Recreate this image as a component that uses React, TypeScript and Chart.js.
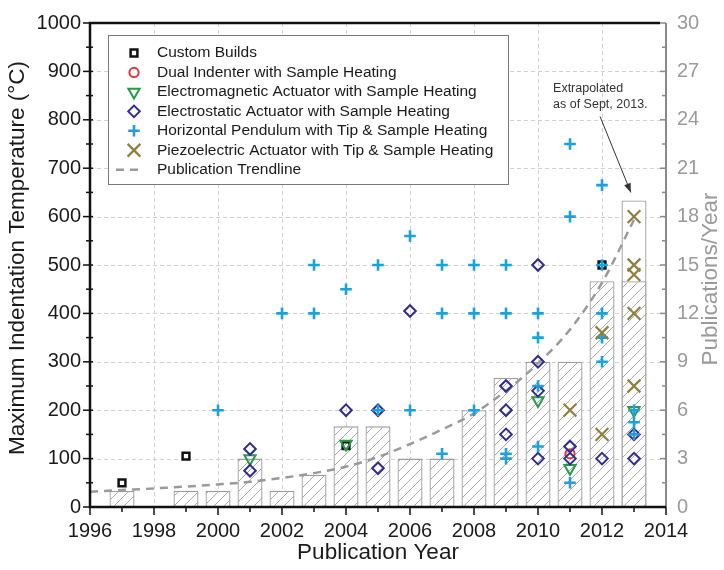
import React, { useEffect, useRef } from 'react';
import { Chart, registerables } from 'chart.js';
import { drawPoint } from 'chart.js/helpers';

Chart.register(...registerables);

const FONT = '"Liberation Sans", Arial, Helvetica, sans-serif';

// ---- Publications per year (right axis) ----
const barYears = [1997, 1999, 2000, 2001, 2002, 2003, 2004, 2005, 2006, 2007, 2008, 2009, 2010, 2011, 2012, 2013];
const publications = [1, 1, 1, 3, 1, 2, 5, 5, 3, 3, 6, 8, 9, 9, 14, 14];
const extrapolatedYears = [2013];
const extrapolatedPublications = [19];

// ---- Publication trendline (right axis) ----
const trendYears = [1996, 1997, 1998, 1999, 2000, 2001, 2002, 2003, 2004, 2005, 2006, 2007, 2008, 2009, 2010, 2011, 2012, 2013];
const trendPublications = [0.95, 1.05, 1.15, 1.27, 1.4, 1.56, 1.8, 2.1, 2.5, 3.1, 3.9, 4.8, 5.8, 7.2, 8.9, 11.0, 13.9, 17.8];

// ---- Maximum indentation temperature (left axis), by technique ----
const customYears = [1997, 1999, 2004, 2012];
const customTemps = [50, 105, 127, 500];

const dualYears = [2011];
const dualTemps = [110];

const emYears = [2001, 2004, 2010, 2011, 2013];
const emTemps = [100, 130, 220, 80, 200];

const esYears = [2001, 2001, 2004, 2005, 2005, 2006, 2009, 2009, 2009, 2010, 2010, 2010, 2010, 2011, 2011, 2012, 2013, 2013];
const esTemps = [120, 75, 200, 200, 80, 405, 250, 200, 150, 500, 300, 240, 100, 125, 100, 100, 150, 100];

const hpYears = [2000, 2002, 2003, 2003, 2004, 2005, 2005, 2006, 2006, 2007, 2007, 2007, 2008, 2008, 2008, 2009, 2009, 2009, 2009, 2010, 2010, 2010, 2010, 2011, 2011, 2011, 2012, 2012, 2012, 2012, 2012, 2013, 2013, 2013];
const hpTemps = [200, 400, 500, 400, 450, 500, 200, 560, 200, 500, 400, 110, 500, 400, 200, 500, 400, 110, 100, 400, 350, 250, 125, 750, 600, 50, 665, 500, 400, 350, 300, 200, 175, 150];

const pzYears = [2011, 2012, 2012, 2013, 2013, 2013, 2013, 2013];
const pzTemps = [200, 360, 150, 600, 500, 480, 400, 250];

// ---- Annotation ----
const annotationLines = ['Extrapolated', 'as of Sept, 2013.'];
const annotationTextAt = { x: 2010.47, y: 25.95 };
const arrowFrom = { x: 2011.94, y: 24.2 };
const arrowTo = { x: 2012.9, y: 19.5 };

const zip = (xs: number[], ys: number[]) => xs.map((x, i) => ({ x, y: ys[i] }));

function makeHatch(): CanvasPattern | string {
  const c = document.createElement('canvas');
  const s = 10;
  c.width = s;
  c.height = s;
  const g = c.getContext('2d');
  if (!g) return '#fff';
  g.fillStyle = '#ffffff';
  g.fillRect(0, 0, s, s);
  g.strokeStyle = '#a8a8a8';
  g.lineWidth = 1;
  g.beginPath();
  g.moveTo(0, s);
  g.lineTo(s, 0);
  g.moveTo(-s / 2, s / 2);
  g.lineTo(s / 2, -s / 2);
  g.moveTo(s / 2, s * 1.5);
  g.lineTo(s * 1.5, s / 2);
  g.stroke();
  return g.createPattern(c, 'repeat') || '#fff';
}

const framePlugin = {
  id: 'frame',
  beforeDatasetsDraw(chart: any) {
    const { ctx, chartArea: a, scales } = chart;
    const xs = scales.x;
    const ys = scales.y;
    ctx.save();
    ctx.strokeStyle = '#d2d2d2';
    ctx.lineWidth = 1;
    ctx.setLineDash([4, 3]);
    ys.ticks.forEach((t: any) => {
      if (t.value <= ys.min || t.value >= ys.max) return;
      const py = Math.round(ys.getPixelForValue(t.value)) + 0.5;
      ctx.beginPath();
      ctx.moveTo(a.left, py);
      ctx.lineTo(a.right, py);
      ctx.stroke();
    });
    xs.ticks.forEach((t: any) => {
      if (t.value <= xs.min || t.value >= xs.max) return;
      const px = Math.round(xs.getPixelForValue(t.value)) + 0.5;
      ctx.beginPath();
      ctx.moveTo(px, a.top);
      ctx.lineTo(px, a.bottom);
      ctx.stroke();
    });
    ctx.restore();
  },
  afterDatasetsDraw(chart: any) {
    const { ctx, chartArea: a, scales } = chart;
    const xs = scales.x;
    const ys = scales.y;
    const yr = scales.yR;
    ctx.save();
    ctx.setLineDash([]);
    ctx.strokeStyle = '#111';
    ctx.lineWidth = 1.5;
    const yt = ys.ticks.map((t: any) => t.value);
    for (let i = 0; i < yt.length; i++) {
      const py = ys.getPixelForValue(yt[i]);
      ctx.beginPath();
      ctx.moveTo(a.left - 7, py);
      ctx.lineTo(a.left + 3, py);
      ctx.stroke();
      if (i < yt.length - 1) {
        const pm = ys.getPixelForValue((yt[i] + yt[i + 1]) / 2);
        ctx.beginPath();
        ctx.moveTo(a.left - 4, pm);
        ctx.lineTo(a.left + 3, pm);
        ctx.stroke();
      }
    }
    const xt = xs.ticks.map((t: any) => t.value);
    for (let i = 0; i < xt.length; i++) {
      const px = xs.getPixelForValue(xt[i]);
      ctx.beginPath();
      ctx.moveTo(px, a.bottom);
      ctx.lineTo(px, a.bottom + 8);
      ctx.stroke();
      if (i < xt.length - 1) {
        const pm = xs.getPixelForValue((xt[i] + xt[i + 1]) / 2);
        ctx.beginPath();
        ctx.moveTo(pm, a.bottom);
        ctx.lineTo(pm, a.bottom + 5);
        ctx.stroke();
      }
    }
    ctx.strokeStyle = '#8a8a8a';
    const rt = yr.ticks.map((t: any) => t.value);
    for (let i = 0; i < rt.length; i++) {
      const py = yr.getPixelForValue(rt[i]);
      ctx.beginPath();
      ctx.moveTo(a.right - 6, py);
      ctx.lineTo(a.right, py);
      ctx.stroke();
      if (i < rt.length - 1) {
        const pm = yr.getPixelForValue((rt[i] + rt[i + 1]) / 2);
        ctx.beginPath();
        ctx.moveTo(a.right - 4, pm);
        ctx.lineTo(a.right, pm);
        ctx.stroke();
      }
    }
    ctx.lineWidth = 2;
    ctx.strokeStyle = '#8a8a8a';
    ctx.beginPath();
    ctx.moveTo(a.right, a.top);
    ctx.lineTo(a.right, a.bottom);
    ctx.stroke();
    ctx.strokeStyle = '#111';
    ctx.lineWidth = 2.5;
    ctx.beginPath();
    ctx.moveTo(a.right - 6, a.top);
    ctx.lineTo(a.left, a.top);
    ctx.lineTo(a.left, a.bottom);
    ctx.lineTo(a.right, a.bottom);
    ctx.stroke();
    ctx.restore();
  },
  afterDraw(chart: any) {
    const { ctx, chartArea: a, scales } = chart;
    const xs = scales.x;
    const yr = scales.yR;
    const midY = (a.top + a.bottom) / 2;

    // axis titles (both rotated, reading bottom to top)
    ctx.save();
    ctx.font = `22.5px ${FONT}`;
    ctx.textAlign = 'center';
    ctx.textBaseline = 'middle';
    ctx.fillStyle = '#1a1a1a';
    ctx.save();
    ctx.translate(18, midY - 7);
    ctx.rotate(-Math.PI / 2);
    ctx.fillText('Maximum Indentation Temperature (°C)', 0, 0);
    ctx.restore();
    ctx.fillStyle = '#9a9a9a';
    ctx.translate(a.right + 45, midY + 14);
    ctx.rotate(-Math.PI / 2);
    ctx.fillText('Publications/Year', 0, 0);
    ctx.restore();

    // annotation
    ctx.save();
    ctx.fillStyle = '#333';
    ctx.font = `12.5px ${FONT}`;
    ctx.textAlign = 'left';
    ctx.textBaseline = 'middle';
    const tx = xs.getPixelForValue(annotationTextAt.x);
    const ty = yr.getPixelForValue(annotationTextAt.y);
    annotationLines.forEach((t, i) => ctx.fillText(t, tx, ty + i * 16));
    const x1 = xs.getPixelForValue(arrowFrom.x);
    const y1 = yr.getPixelForValue(arrowFrom.y);
    const x2 = xs.getPixelForValue(arrowTo.x);
    const y2 = yr.getPixelForValue(arrowTo.y);
    ctx.strokeStyle = '#333';
    ctx.lineWidth = 1;
    ctx.beginPath();
    ctx.moveTo(x1, y1);
    ctx.lineTo(x2, y2);
    ctx.stroke();
    const ang = Math.atan2(y2 - y1, x2 - x1);
    const hl = 9;
    const hw = 3.5;
    ctx.beginPath();
    ctx.moveTo(x2, y2);
    ctx.lineTo(x2 - hl * Math.cos(ang) + hw * Math.sin(ang), y2 - hl * Math.sin(ang) - hw * Math.cos(ang));
    ctx.lineTo(x2 - hl * Math.cos(ang) - hw * Math.sin(ang), y2 - hl * Math.sin(ang) + hw * Math.cos(ang));
    ctx.closePath();
    ctx.fillStyle = '#333';
    ctx.fill();
    ctx.restore();

    // legend
    const entries = chart.data.datasets.filter((d: any) => d.inLegend);
    entries.sort((p: any, q: any) => p.legendRank - q.legendRank);
    const bx = a.left + 18;
    const by = a.top + 12;
    const bw = 400;
    const rowH = 19.45;
    const bh = 149;
    ctx.save();
    ctx.fillStyle = '#fff';
    ctx.fillRect(bx, by, bw, bh);
    ctx.strokeStyle = '#7a7a7a';
    ctx.lineWidth = 1;
    ctx.strokeRect(Math.round(bx) + 0.5, Math.round(by) + 0.5, bw, bh);
    ctx.font = `15.5px ${FONT}`;
    ctx.textBaseline = 'middle';
    ctx.textAlign = 'left';
    entries.forEach((d: any, i: number) => {
      const cy = by + 18 + i * rowH;
      const mx = bx + 26;
      if (d.type === 'line') {
        ctx.save();
        ctx.strokeStyle = d.borderColor;
        ctx.lineWidth = d.borderWidth;
        ctx.setLineDash(d.borderDash);
        ctx.beginPath();
        ctx.moveTo(mx - 18, cy);
        ctx.lineTo(mx + 10, cy);
        ctx.stroke();
        ctx.restore();
      } else {
        ctx.save();
        ctx.strokeStyle = d.pointBorderColor;
        ctx.fillStyle = 'rgba(0,0,0,0)';
        ctx.lineWidth = d.pointBorderWidth;
        drawPoint(ctx, { pointStyle: d.pointStyle, rotation: d.pointRotation || 0, radius: d.pointRadius, borderWidth: d.pointBorderWidth } as any, mx, cy);
        ctx.restore();
      }
      ctx.fillStyle = '#1a1a1a';
      ctx.fillText(d.label, bx + 49, cy);
    });
    ctx.restore();
  },
};

function scatterSet(label: string, xs: number[], ys: number[], style: string, color: string, radius: number, width: number, rank: number, order: number, rotation = 0) {
  return {
    type: 'scatter',
    label,
    data: zip(xs, ys),
    xAxisID: 'x',
    yAxisID: 'y',
    showLine: false,
    pointStyle: style,
    pointRadius: radius,
    pointHoverRadius: radius,
    pointRotation: rotation,
    pointBorderColor: color,
    pointBackgroundColor: 'rgba(0,0,0,0)',
    pointBorderWidth: width,
    inLegend: true,
    legendRank: rank,
    order,
  };
}

export default function App() {
  const ref = useRef<HTMLCanvasElement>(null);
  useEffect(() => {
    if (!ref.current) return;
    const hatch = makeHatch();
    const chart = new Chart(ref.current, {
      type: 'scatter',
      data: {
        datasets: [
          scatterSet('Custom Builds', customYears, customTemps, 'rect', '#111111', 4.8, 2.5, 0, 7),
          scatterSet('Dual Indenter with Sample Heating', dualYears, dualTemps, 'circle', '#e0383e', 4.6, 2, 1, 6),
          scatterSet('Electromagnetic Actuator with Sample Heating', emYears, emTemps, 'triangle', '#2a9a48', 6.5, 2, 2, 5, 180),
          scatterSet('Electrostatic Actuator with Sample Heating', esYears, esTemps, 'rectRot', '#2f2b8f', 5.8, 2, 3, 4),
          scatterSet('Horizontal Pendulum with Tip & Sample Heating', hpYears, hpTemps, 'cross', '#1ba1db', 5.8, 2.6, 4, 3),
          scatterSet('Piezoelectric Actuator with Tip & Sample Heating', pzYears, pzTemps, 'crossRot', '#8f7f3f', 9, 2.2, 5, 2),
          {
            type: 'line',
            label: 'Publication Trendline',
            data: zip(trendYears, trendPublications),
            xAxisID: 'x',
            yAxisID: 'yR',
            borderColor: '#9a9a9a',
            borderWidth: 2.5,
            borderDash: [8, 6],
            pointRadius: 0,
            fill: false,
            tension: 0.4,
            cubicInterpolationMode: 'monotone',
            inLegend: true,
            legendRank: 6,
            order: 8,
          },
          {
            type: 'bar',
            label: 'Publications',
            data: zip(barYears, publications),
            xAxisID: 'x',
            yAxisID: 'yR',
            backgroundColor: hatch,
            borderColor: '#9c9c9c',
            borderWidth: 1.3,
            borderSkipped: false,
            grouped: false,
            categoryPercentage: 1,
            barPercentage: 0.78,
            order: 9,
          },
          {
            type: 'bar',
            label: 'Extrapolated',
            data: zip(extrapolatedYears, extrapolatedPublications),
            xAxisID: 'x',
            yAxisID: 'yR',
            backgroundColor: '#ffffff',
            borderColor: '#9c9c9c',
            borderWidth: 1.3,
            borderSkipped: false,
            grouped: false,
            categoryPercentage: 1,
            barPercentage: 0.78,
            order: 10,
          },
        ] as any,
      },
      options: {
        responsive: false,
        animation: false,
        events: [],
        layout: { padding: { top: 22, left: 0, right: 0, bottom: 0 } },
        plugins: { legend: { display: false }, tooltip: { enabled: false } },
        scales: {
          x: {
            type: 'linear',
            position: 'bottom',
            min: 1996,
            max: 2014,
            offset: false,
            grid: { display: false, drawTicks: false, offset: false },
            border: { display: false },
            ticks: {
              stepSize: 2,
              autoSkip: false,
              maxRotation: 0,
              padding: 12,
              color: '#1a1a1a',
              font: { family: FONT, size: 20 },
              callback: (v: any) => String(v),
            },
            title: {
              display: true,
              text: 'Publication Year',
              color: '#1a1a1a',
              font: { family: FONT, size: 22.5 },
              padding: { top: 0, bottom: 4 },
            },
            afterFit: (s: any) => {
              s.height = 63;
            },
          },
          y: {
            type: 'linear',
            position: 'left',
            min: 0,
            max: 1000,
            grid: { display: false, drawTicks: false },
            border: { display: false },
            ticks: {
              stepSize: 100,
              padding: 9,
              color: '#1a1a1a',
              font: { family: FONT, size: 20 },
              callback: (v: any) => String(v),
            },
            title: { display: false },
            afterFit: (s: any) => {
              s.width = 90;
            },
          },
          yR: {
            type: 'linear',
            position: 'right',
            min: 0,
            max: 30,
            grid: { display: false, drawTicks: false },
            border: { display: false },
            ticks: {
              stepSize: 3,
              padding: 11,
              color: '#9a9a9a',
              font: { family: FONT, size: 20 },
              callback: (v: any) => String(v),
            },
            title: { display: false },
            afterFit: (s: any) => {
              s.width = 58;
            },
          },
        },
      } as any,
      plugins: [framePlugin as any],
    });
    return () => chart.destroy();
  }, []);

  return (
    <div style={{ position: 'fixed', left: 0, top: 0, width: 724, height: 570, background: '#fff' }}>
      <canvas ref={ref} width={724} height={570} style={{ display: 'block' }} />
    </div>
  );
}
